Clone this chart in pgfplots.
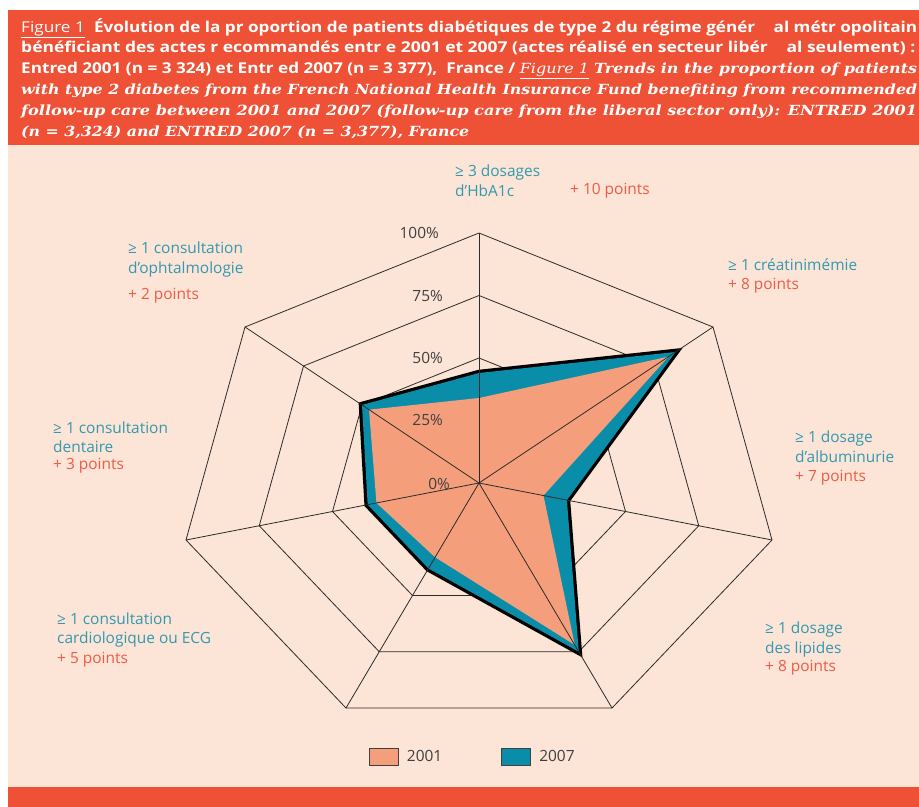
\documentclass[border=0pt]{standalone}
\usepackage{pgfplots}
\pgfplotsset{compat=1.18}
\usepackage{pgfplotstable}
\usepackage{graphicx}
\usepackage{fontspec}
\setmainfont{Open Sans}
\newfontfamily\labfont{Open Sans}
\newfontfamily\headfont{Open Sans}
\newfontfamily\engfont{DejaVu Serif}
\definecolor{hdrred}{HTML}{EF5136}
\definecolor{peach}{HTML}{FCE4D6}
\definecolor{salmon}{HTML}{F59E7C}
\definecolor{teal7}{HTML}{0A8DA8}
\definecolor{labteal}{HTML}{3399B0}
\definecolor{labred}{HTML}{EE5B45}
\definecolor{gridc}{HTML}{2B2B2B}
\definecolor{pctc}{HTML}{404040}
\newcommand\lab{\labfont\fontsize{15.5}{18}\selectfont}
\newcommand\hdr{\headfont\fontsize{15}{18}\selectfont}

% direction of each axis (pixels for 100%), values in percent
\pgfplotstableread{
cat dx dy y2001 y2007
0 0 250 34 44
1 234 156 81 84
2 293 -57 22 30
3 133 -225 72 75
4 -133 -225 33 38
5 -293 -57 35 38
6 -234 156 47 50
}\radar

\begin{document}
\begin{tikzpicture}
\begin{axis}[
  width=919bp, height=807bp, scale only axis,
  xmin=0, xmax=919, ymin=0, ymax=807, y dir=reverse,
  hide axis, clip=true,
  legend image code/.code={\draw[#1] (0bp,-8.5bp) rectangle (29bp,8.5bp);},
  legend style={at={(axis cs:369,757)}, anchor=west, draw=none, fill=none,
    inner sep=0pt, outer sep=0pt, font=\lab, text=pctc,
    /tikz/every even column/.append style={column sep=57bp}},
  legend columns=2,
]
% backgrounds
\fill[white] (axis cs:0,0) rectangle (axis cs:919,807);
\fill[hdrred] (axis cs:8,10) rectangle (axis cs:919,145);
\fill[peach] (axis cs:8,145) rectangle (axis cs:919,787);
\fill[hdrred] (axis cs:8,787) rectangle (axis cs:919,807);

% rings
\pgfplotsinvokeforeach{25,50,75,100}{
  \addplot[gridc, line width=0.8bp, forget plot]
    table[x expr={479+\thisrow{dx}*#1/100}, y expr={483-\thisrow{dy}*#1/100}] {\radar} -- cycle;
}
% 2007 outline, then fills
\addplot[black, line width=6.5bp, line join=miter, forget plot]
  table[x expr={479+\thisrow{dx}*\thisrow{y2007}/100}, y expr={483-\thisrow{dy}*\thisrow{y2007}/100}] {\radar} -- cycle;
\addplot[fill=teal7, draw=none, forget plot]
  table[x expr={479+\thisrow{dx}*\thisrow{y2007}/100}, y expr={483-\thisrow{dy}*\thisrow{y2007}/100}] {\radar} -- cycle;
\addplot[fill=salmon, draw=none, forget plot]
  table[x expr={479+\thisrow{dx}*\thisrow{y2001}/100}, y expr={483-\thisrow{dy}*\thisrow{y2001}/100}] {\radar} -- cycle;
% spokes
\addplot[gridc, line width=0.8bp, forget plot, quiver={u=\thisrow{dx}, v=-\thisrow{dy}}]
  table[x expr=479, y expr=483] {\radar};

\addlegendimage{fill=salmon, draw=pctc, line width=1bp}
\addlegendentry{\hspace{6bp}2001}
\addlegendimage{fill=teal7, draw=pctc, line width=1bp}
\addlegendentry{\hspace{6bp}2007}

% percent labels
\node[anchor=base east, font=\lab, text=pctc, inner sep=0] at (axis cs:439,238) {100\%};
\node[anchor=base east, font=\lab, text=pctc, inner sep=0] at (axis cs:443,301) {75\%};
\node[anchor=base east, font=\lab, text=pctc, inner sep=0] at (axis cs:443,363) {50\%};
\node[anchor=base east, font=\lab, text=pctc, inner sep=0] at (axis cs:443,425) {25\%};
\node[anchor=base east, font=\lab, text=pctc, inner sep=0] at (axis cs:450,489) {0\%};

% category labels
\begin{scope}[every node/.style={anchor=base west, font=\lab, inner sep=0}]
\node[text=labteal] at (axis cs:455,177) {≥ 3 dosages};
\node[text=labteal] at (axis cs:455,197) {d’HbA1c};
\node[text=labred] at (axis cs:570,195) {+ 10 points};
\node[text=labteal] at (axis cs:728,270) {≥ 1 créatinimémie};
\node[text=labred] at (axis cs:728,289) {+ 8 points};
\node[text=labteal] at (axis cs:795,442) {≥ 1 dosage};
\node[text=labteal] at (axis cs:795,462) {d’albuminurie};
\node[text=labred] at (axis cs:795,481) {+ 7 points};
\node[text=labteal] at (axis cs:765,633) {≥ 1 dosage};
\node[text=labteal] at (axis cs:765,653) {des lipides};
\node[text=labred] at (axis cs:765,671) {+ 8 points};
\node[text=labteal] at (axis cs:53,433) {≥ 1 consultation};
\node[text=labteal] at (axis cs:53,452) {dentaire};
\node[text=labred] at (axis cs:53,469) {+ 3 points};
\node[text=labteal] at (axis cs:57,624) {≥ 1 consultation};
\node[text=labteal] at (axis cs:57,643) {cardiologique ou ECG};
\node[text=labred] at (axis cs:57,663) {+ 5 points};
\node[text=labteal] at (axis cs:128,253) {≥ 1 consultation};
\node[text=labteal] at (axis cs:128,273) {d’ophtalmologie};
\node[text=labred] at (axis cs:128,299) {+ 2 points};
\end{scope}

% header
\begin{scope}[every node/.style={anchor=base west, inner sep=0, text=white}]
\node at (axis cs:21,32.5) {\resizebox{896bp}{\height}{\hdr\underline{\mdseries Figure 1}\hspace{8bp}\bfseries Évolution de la pr oportion de patients diabétiques de type 2 du régime génér\hspace{16bp}al métr opolitain}};
\node at (axis cs:21,53) {\resizebox{894bp}{\height}{\hdr\bfseries bénéficiant des actes r ecommandés entr e 2001 et 2007 (actes réalisé en secteur libér\hspace{16bp}al seulement) :}};
\node at (axis cs:21,74) {\resizebox{896bp}{\height}{\hdr\bfseries Entred 2001 (n = 3 324) et Entr ed 2007 (n = 3 377),\hspace{4bp} France / {\engfont\fontsize{14}{17}\selectfont\mdseries\itshape\underline{Figure 1} \bfseries Trends in the proportion of patients}}};
\node at (axis cs:21,95) {\resizebox{896bp}{\height}{\engfont\fontsize{14}{17}\selectfont\bfseries\itshape with type 2 diabetes from the French National Health Insurance Fund benefiting from recommended}};
\node at (axis cs:21,116) {\resizebox{896bp}{\height}{\engfont\fontsize{14}{17}\selectfont\bfseries\itshape follow-up care between 2001 and 2007 (follow-up care from the liberal sector only): ENTRED 2001}};
\node at (axis cs:21,136.5) {\resizebox{448bp}{\height}{\engfont\fontsize{14}{17}\selectfont\bfseries\itshape (n = 3,324) and ENTRED 2007 (n = 3,377), France}};
\end{scope}
\end{axis}
\pgfresetboundingbox
\path[use as bounding box] (current axis.south west) rectangle (current axis.north east);
\end{tikzpicture}
\end{document}
